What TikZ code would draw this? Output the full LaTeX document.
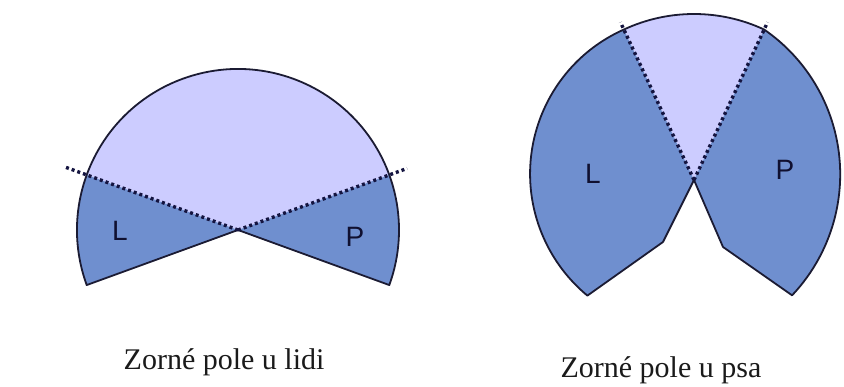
\documentclass[tikz,border=0pt]{standalone}
\usepackage{fontspec}
\setmainfont{Liberation Serif}
\newfontfamily\labfont{Liberation Sans}
\definecolor{lightc}{RGB}{204,204,255}
\definecolor{darkc}{RGB}{111,143,207}
\definecolor{edgec}{RGB}{27,27,51}
\definecolor{dotc}{RGB}{20,20,64}
\definecolor{labc}{RGB}{16,16,48}
\definecolor{capc}{RGB}{26,26,26}
\begin{document}
\begin{tikzpicture}[x=1pt,y=1pt,
  edge/.style={draw=edgec,line width=1.8pt,line join=round},
  dotline/.style={draw=dotc,line width=3.4pt,dash pattern=on 3pt off 3pt},
  lab/.style={font=\labfont\fontsize{28}{28}\selectfont,text=labc},
  captext/.style={font=\fontsize{30}{30}\selectfont,text=capc}]
\useasboundingbox (0,0) rectangle (844,387);
% ---------- left figure: human ----------
\coordinate (V1) at (238,157);
\coordinate (A1) at ([shift={(160:161)}]V1);
\coordinate (B1) at ([shift={(20:161)}]V1);
\coordinate (D1) at ([shift={(200:161)}]V1);
\coordinate (E1) at ([shift={(-20:161)}]V1);
\coordinate (A1x) at ([shift={(160:183)}]V1);
\coordinate (B1x) at ([shift={(20:180)}]V1);
\fill[lightc] (V1) -- (B1) arc[start angle=20,end angle=160,radius=161] -- cycle;
\fill[darkc] (V1) -- (A1) arc[start angle=160,end angle=200,radius=161] -- cycle;
\fill[darkc] (V1) -- (E1) arc[start angle=-20,end angle=20,radius=161] -- cycle;
\draw[edge] (V1) -- (D1) arc[start angle=200,end angle=-20,radius=161] -- cycle;
\draw[dotline] (V1) -- (A1x);
\draw[dotline] (V1) -- (B1x);
\node[lab] (l1) at (120,156) {L};
\node[lab] (p1) at (355,150) {P};
\node[captext,anchor=base east] (c1) at (328,17) {Zorné pole u lidi};
% ---------- right figure: dog ----------
\coordinate (V2) at (694,207);
\coordinate (T1) at ([shift={(115:166)}]V2);
\coordinate (T2) at ([shift={(65:166)}]V2);
\coordinate (C1) at ([shift={(294:158)}]T1);
\coordinate (C2) at ([shift={(235.4:176)}]T2);
\coordinate (B2) at ([shift={(-43.4:176)}]C2);
\coordinate (K1) at (663,145);
\coordinate (K2) at (723,140);
\coordinate (T1x) at ([shift={(115:174)}]V2);
\coordinate (T2x) at ([shift={(65:174)}]V2);
\fill[lightc] (V2) -- (T2) arc[start angle=65,end angle=115,radius=166] -- cycle;
\fill[darkc] (V2) -- (T1) arc[start angle=114,end angle=230.4,radius=158] -- (K1) -- cycle;
\fill[darkc] (V2) -- (T2) arc[start angle=55.4,end angle=-43.4,radius=176] -- (K2) -- cycle;
\draw[edge] (T2) arc[start angle=65,end angle=115,radius=166]
  arc[start angle=114,end angle=230.4,radius=158] -- (K1) -- (V2) -- (K2) -- (B2)
  arc[start angle=-43.4,end angle=55.4,radius=176];
\draw[dotline] (V2) -- (T1x);
\draw[dotline] (V2) -- (T2x);
\node[lab] (l2) at (593,213) {L};
\node[lab] (p2) at (785,217) {P};
\node[captext,anchor=base west] (c2) at (557,9) {Zorné pole u psa};
\end{tikzpicture}
\end{document}
